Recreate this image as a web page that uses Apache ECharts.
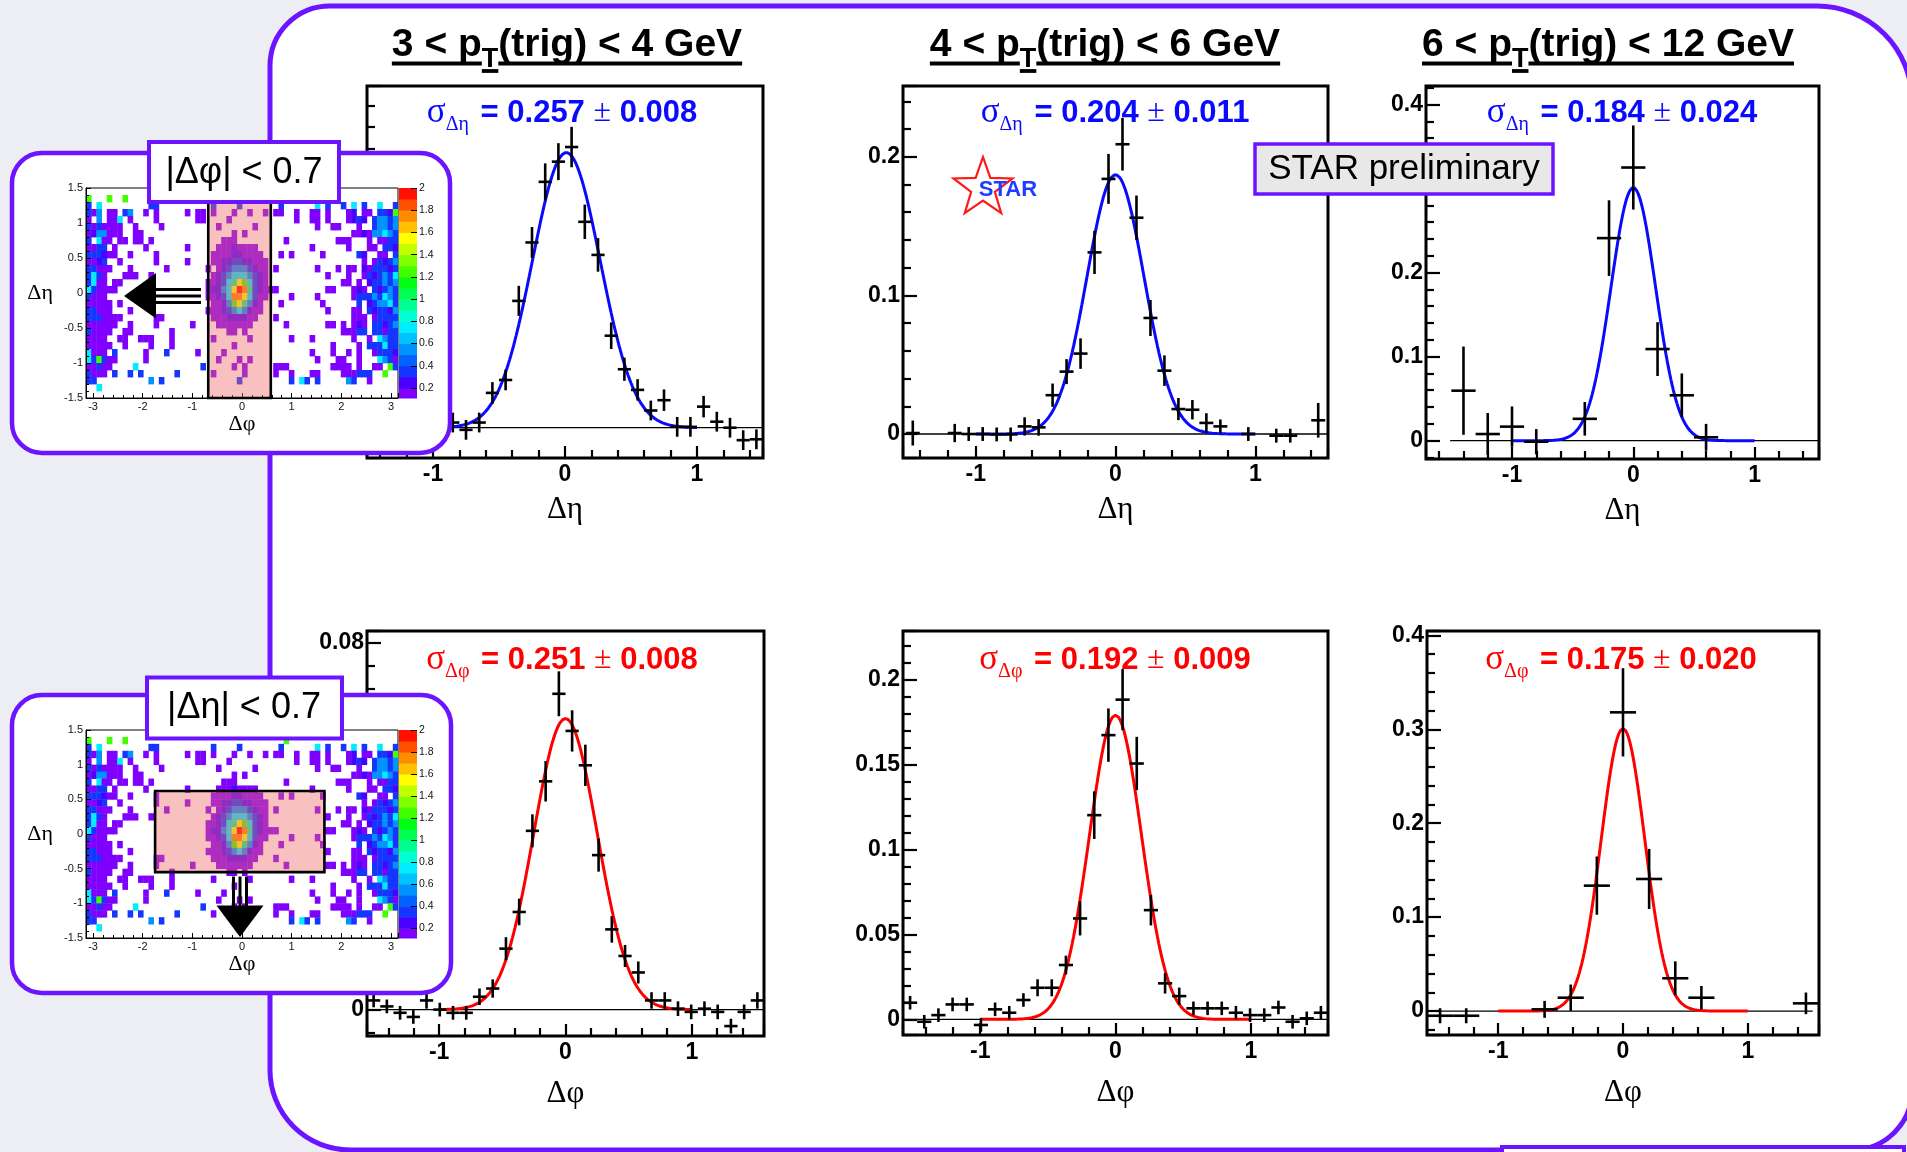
<!DOCTYPE html>
<html>
<head>
<meta charset="utf-8">
<script src="https://cdn.jsdelivr.net/npm/echarts@6/dist/echarts.min.js"></script>
<style>
html,body{margin:0;padding:0;background:#eceef3;}
#chart{width:1907px;height:1152px;}
</style>
</head>
<body>
<div id="chart"></div>
<script>
// ---------------- data ----------------
// Δη projections (|Δφ| < 0.7), three trigger pT bins
const etaLowX  = [-1.45,-1.35,-1.25,-1.15,-1.05,-0.95,-0.85,-0.75,-0.65,-0.55,-0.45,-0.35,-0.25,-0.15,-0.05,0.05,0.15,0.25,0.35,0.45,0.55,0.65,0.75,0.85,0.95,1.05,1.15,1.25,1.35,1.45];
const etaLowY  = [-0.0005,-0.0027,0.0000,0.0043,0.0026,-0.0005,0.0012,-0.0005,0.0012,0.0081,0.0111,0.0295,0.0431,0.0572,0.0619,0.0653,0.0479,0.0402,0.0214,0.0136,0.0088,0.0040,0.0064,0.0002,0.0002,0.0049,0.0014,0.0000,-0.0029,-0.0027];
const etaLowErr= [0.0023,0.0023,0.0023,0.0025,0.0023,0.0023,0.0023,0.0023,0.0023,0.0025,0.0024,0.0035,0.0036,0.0043,0.0043,0.0047,0.0040,0.0039,0.0031,0.0027,0.0025,0.0023,0.0025,0.0023,0.0023,0.0025,0.0023,0.0023,0.0023,0.0023];

const etaMidX  = [-1.45,-1.15,-1.05,-0.95,-0.85,-0.75,-0.65,-0.55,-0.45,-0.35,-0.25,-0.15,-0.05,0.05,0.15,0.25,0.35,0.45,0.55,0.65,0.75,0.95,1.15,1.25,1.45];
const etaMidY  = [0.0007,0.0007,0.0000,0.0000,-0.0003,-0.0003,0.0055,0.0048,0.028,0.045,0.058,0.131,0.184,0.209,0.156,0.0837,0.0457,0.018,0.0175,0.008,0.0055,0.0000,-0.0012,-0.0012,0.0099];
const etaMidErr= [0.009,0.0066,0.005,0.005,0.005,0.005,0.0066,0.006,0.0084,0.009,0.011,0.0156,0.018,0.019,0.016,0.013,0.011,0.008,0.007,0.007,0.005,0.005,0.005,0.005,0.0125];

const etaHighX  = [-1.4,-1.2,-1.0,-0.8,-0.4,-0.2,0.0,0.2,0.4,0.6];
const etaHighY  = [0.0595,0.0079,0.0167,-0.0012,0.026,0.241,0.325,0.109,0.054,0.004];
const etaHighErr= [0.0525,0.025,0.024,0.015,0.02,0.045,0.05,0.032,0.026,0.016];

// Δφ projections (|Δη| < 0.7)
const phiBinX = [-1.5184,-1.4137,-1.3090,-1.2043,-1.0996,-0.9948,-0.8901,-0.7854,-0.6807,-0.5760,-0.4712,-0.3665,-0.2618,-0.1571,-0.0524,0.0524,0.1571,0.2618,0.3665,0.4712,0.5760,0.6807,0.7854,0.8901,0.9948,1.0996,1.2043,1.3090,1.4137,1.5184];
const phiLowY  = [0.002,0.0007,-0.0007,-0.0016,0.002,0.0000,-0.0007,-0.0007,0.0028,0.0046,0.0133,0.0213,0.039,0.0498,0.0689,0.0608,0.0533,0.0337,0.0175,0.0117,0.0081,0.002,0.002,0.0002,-0.0005,0.0002,-0.0005,-0.0036,-0.0005,0.002];
const phiLowErr= [0.0015,0.0015,0.0015,0.0015,0.0018,0.0015,0.0015,0.0015,0.0018,0.002,0.0025,0.0029,0.0036,0.0044,0.0049,0.0045,0.0045,0.0036,0.0029,0.0024,0.0024,0.0018,0.0018,0.0016,0.0016,0.0016,0.0016,0.0016,0.0016,0.0018];
const phiMidY  = [0.0098,-0.0014,0.0025,0.0088,0.0088,-0.0033,0.0059,0.0039,0.0114,0.0186,0.0186,0.032,0.0594,0.1202,0.1673,0.1882,0.1506,0.0643,0.0212,0.0137,0.0065,0.0065,0.0065,0.0039,0.0025,0.0025,0.007,-0.0014,0.0006,0.0039];
const phiMidErr= [0.004,0.004,0.004,0.004,0.004,0.004,0.004,0.004,0.004,0.005,0.005,0.0055,0.010,0.014,0.0157,0.018,0.0157,0.009,0.006,0.005,0.004,0.004,0.004,0.004,0.004,0.004,0.004,0.004,0.004,0.004];
const phiHighX  = [-1.4661,-1.2566,-0.6283,-0.4189,-0.2094,0.0,0.2094,0.4189,0.6283,1.4661];
const phiHighY  = [-0.005,-0.005,0.0018,0.0142,0.1335,0.318,0.1406,0.0349,0.0142,0.0082];
const phiHighErr= [0.008,0.008,0.009,0.014,0.031,0.047,0.032,0.018,0.0125,0.0115];

// Gaussian fit results per panel (TL, TM, TR, BL, BM, BR)
const fitSigma    = [0.257, 0.204, 0.184, 0.251, 0.192, 0.175];
const fitSigmaErr = [0.008, 0.011, 0.024, 0.008, 0.009, 0.020];
const fitAmp      = [0.064, 0.187, 0.301, 0.0635, 0.179, 0.3007];
const fitMean     = [0.01, 0.0, 0.0, 0.0, 0.0, 0.0];
const fitRange    = [-1, 1];

// trigger pT bins
const titleLead = ['3 < p', '4 < p', '6 < p'];
const titleTail = ['(trig) < 4 GeV', '(trig) < 6 GeV', '(trig) < 12 GeV'];

// 2D correlation (Δφ x Δη), 60 x 30 bins; each row lists "phiBin:level", top row first
const heatRows = [
 '',
 '0:7 4:7 7:7 38:7',
 '0:3 2:5 12:3 13:3 24:3 29:3 37:3 44:5 46:3 49:3 51:5 53:3 56:5 59:3',
 '0:3 1:1 2:4 4:1 5:1 7:3 8:4 11:1 13:1 19:1 21:1 22:1 24:1 28:1 31:1 34:1 36:1 37:1 40:1 43:1 44:1 46:1 50:1 51:2 53:1 54:1 56:3 57:3 58:2 59:7',
 '0:1 2:4 4:1 5:1 6:5 8:1 13:1 21:1 22:1 27:1 40:1 43:1 44:1 46:1 50:1 51:2 52:3 53:2 55:3 56:4 57:4 58:3 59:4',
 '0:3 1:1 2:3 3:1 4:1 5:1 6:1 9:1 14:1 25:1 32:1 44:1 47:1 48:1 52:1 55:3 56:4 57:4 58:3 59:4',
 '0:1 1:2 2:4 3:4 4:1 5:1 6:1 9:1 10:1 28:1 30:1 51:1 52:1 53:2 54:1 55:4 56:4 57:5 58:4 59:3',
 '0:3 2:5 3:1 4:1 6:1 7:1 9:1 10:1 12:1 26:1 27:1 28:1 38:1 48:1 49:1 50:1 54:1 56:1 57:1 58:3 59:3',
 '0:1 1:1 2:3 3:3 5:1 11:1 19:1 25:1 26:1 27:1 28:2 29:1 30:1 31:1 32:1 43:1 50:1 54:1 55:1 57:3 58:3 59:2',
 '0:3 1:3 2:3 3:2 4:1 5:1 8:1 13:1 24:1 25:1 26:1 27:1 28:2 29:2 30:1 31:1 32:1 33:1 37:1 39:1 45:1 52:3 53:2 56:1 57:1 59:3',
 '0:1 1:1 2:2 3:3 6:1 13:1 19:1 24:1 25:1 26:2 27:2 28:3 29:3 30:2 31:2 32:1 33:1 34:1 53:1 55:1 56:3 57:2 58:3 59:4',
 '0:3 1:3 2:1 3:1 4:1 8:1 15:1 23:1 25:1 26:2 27:3 28:4 29:4 30:4 31:3 32:2 33:1 34:1 36:1 44:1 48:1 50:1 51:1 53:2 54:1 55:3 56:3 57:3 58:2 59:3',
 '0:3 1:5 2:3 3:1 7:1 8:1 9:1 12:1 24:1 25:2 26:3 27:4 28:5 29:5 30:5 31:4 32:3 33:2 34:1 46:1 50:1 53:1 54:3 55:2 56:3 57:4 58:3 59:5',
 '0:3 1:5 2:1 3:1 5:1 6:1 23:1 24:1 25:2 26:3 27:5 28:6 29:8 30:7 31:5 32:3 33:2 34:1 49:1 50:1 52:1 54:2 55:3 56:3 57:4 58:3 59:4',
 '0:5 1:3 2:1 3:1 4:1 5:1 23:1 24:2 25:2 26:4 27:5 28:8 29:A 30:9 31:6 32:3 33:2 34:1 35:1 36:1 46:1 47:1 51:1 52:2 53:1 55:3 56:2 57:3 58:4 59:3',
 '0:3 1:1 2:1 3:1 23:1 24:1 25:2 26:3 27:5 28:9 29:9 30:8 31:5 32:3 33:1 34:1 39:1 44:1 51:1 52:3 53:3 54:3 55:4 56:3 57:5 58:4 59:3',
 '0:1 1:1 2:1 3:1 4:1 6:1 24:1 25:1 26:2 27:4 28:7 29:8 30:6 31:4 32:2 33:1 37:1 45:1 52:3 54:2 55:3 56:4 57:4 58:5 59:3',
 '0:3 1:3 2:1 3:1 4:1 8:1 23:1 24:1 25:1 26:2 27:3 28:4 29:5 30:4 31:2 32:1 33:1 46:1 51:1 52:1 54:3 55:2 56:3 57:3 58:2 59:4',
 '0:3 1:3 2:3 3:1 4:1 5:1 6:1 13:1 14:1 24:1 25:1 26:1 27:2 28:2 29:2 30:2 31:1 32:1 36:1 51:1 52:1 53:1 55:1 56:3 57:3 58:3 59:3',
 '0:1 1:1 2:1 3:1 4:1 5:1 8:1 13:1 20:1 25:1 26:1 27:1 28:1 29:1 30:1 31:1 38:1 46:1 47:1 49:1 51:1 52:2 53:1 55:3 56:3 57:2 58:3 59:4',
 '0:3 1:1 2:1 3:1 4:1 7:1 8:1 16:1 27:1 28:1 30:1 49:1 50:1 51:1 52:3 53:3 55:3 56:3 57:1 58:3 59:3',
 '0:1 1:1 2:1 3:1 6:1 7:1 10:1 11:1 12:1 16:1 24:1 31:1 39:1 43:1 51:1 54:1 56:5 57:4 58:3 59:3',
 '0:1 1:1 2:1 3:1 4:1 7:1 12:1 16:1 28:1 47:1 52:1 54:3 55:3 56:3 57:5 58:3 59:3',
 '0:5 1:1 2:1 3:1 5:3 11:1 15:3 21:1 26:1 43:1 47:1 50:1 52:1 55:1 56:3 57:3 58:3 59:2',
 '0:5 1:3 2:7 3:3 4:1 5:1 11:1 25:1 29:1 31:1 44:1 48:1 49:1 52:1 56:5 57:4 58:3 59:1',
 '0:1 1:1 2:3 3:1 4:1 9:5 22:3 28:1 30:1 36:1 37:1 38:1 47:1 48:1 49:1 50:1 52:1 55:1 56:1 58:7 59:3',
 '0:3 1:1 2:1 3:1 5:3 8:3 10:3 17:3 24:1 30:1 36:1 39:1 43:1 44:1 49:1 50:1 51:1 52:3 53:3 54:3 57:7',
 '0:3 1:3 12:4 14:3 29:3 39:3 41:5 42:3 44:3 50:4 51:3 54:1',
 '2:5',
 ''
];
const heatLevelValue = {'1':0.15,'2':0.25,'3':0.35,'4':0.55,'5':0.75,'6':0.95,'7':1.25,'8':1.55,'9':1.75,'A':1.95};
const heatPhiBins = 60, heatEtaBins = 30;

// colour palette bands [from, to, colour]
const paletteBands = [
 [0.11,0.2,'#7f00ff'],[0.2,0.3,'#4a00ff'],[0.3,0.4,'#1536ff'],[0.4,0.5,'#0062ff'],[0.5,0.6,'#0092ff'],
 [0.6,0.7,'#00c2ff'],[0.7,0.8,'#00ecff'],[0.8,0.9,'#00ffd2'],[0.9,1.0,'#00ff92'],[1.0,1.1,'#00ff52'],
 [1.1,1.2,'#00ff12'],[1.2,1.3,'#42ff00'],[1.3,1.4,'#82ff00'],[1.4,1.5,'#c2ff00'],[1.5,1.6,'#ffff00'],
 [1.6,1.7,'#ffc000'],[1.7,1.8,'#ff8c00'],[1.8,1.9,'#ff5000'],[1.9,2.0,'#ff1000']
];

// selection windows drawn on the 2D maps: [phiFrom, phiTo, etaFrom, etaTo]
const cutPhiWindow = [[-0.68, 0.58, -1.5, 1.5]];
const cutEtaWindow = [[-1.75, 1.66, -0.55, 0.62]];

// ---------------- layout ----------------
const FONT = '"Liberation Sans", Arial, Helvetica, sans-serif';
const SERIF = '"Liberation Serif", "Times New Roman", serif';
const PURPLE = '#6c14ff';

const panelBox = [
 [367, 86, 396, 372], [903, 86, 425, 372], [1426, 86, 393, 373],
 [367, 631, 397, 405], [903, 631, 425, 404], [1427, 631, 392, 404]
];
const xRange = [[-1.5,1.5],[-1.52,1.52],[-1.709,1.531],[-1.5708,1.5708],[-1.5708,1.5708],[-1.5708,1.5708]];
const yRange = [[-0.00705,0.0795],[-0.0173,0.251],[-0.0218,0.422],[-0.00576,0.0826],[-0.0092,0.2286],[-0.0255,0.4046]];
const ySplit = [5, 3, 4, 5, 5, 4];
const yMinor = [4, 5, 5, 4, 5, 5];
const zeroSpan = [[-1.5,1.5],[-1.52,1.52],[-1.51,1.531],[-1.5708,1.5708],[-1.5708,1.5708],[-1.5708,1.52]];
const binHalf = [0.05, 0.05, 0.1, Math.PI/60, Math.PI/60, Math.PI/30];
const sigmaPos = [[562,113],[1115,113],[1622,113],[562,660],[1115,660],[1621,660]];
const titleCenter = [567, 1105, 1608];

const panels = [
 {x: etaLowX, y: etaLowY, e: etaLowErr},
 {x: etaMidX, y: etaMidY, e: etaMidErr},
 {x: etaHighX, y: etaHighY, e: etaHighErr},
 {x: phiBinX, y: phiLowY, e: phiLowErr},
 {x: phiBinX, y: phiMidY, e: phiMidErr},
 {x: phiHighX, y: phiHighY, e: phiHighErr}
];

const mctx = document.createElement('canvas').getContext('2d');
function textW(t, font) { mctx.font = font; return mctx.measureText(t).width; }

function bandColor(v) {
  for (const b of paletteBands) { if (v >= b[0] && v < b[1]) return b[2]; }
  return v < paletteBands[0][0] ? paletteBands[0][2] : paletteBands[paletteBands.length-1][2];
}

// ---------------- build option ----------------
const grids = [], xAxes = [], yAxes = [], series = [];

panelBox.forEach((b, i) => {
  grids.push({left: b[0], top: b[1], width: b[2], height: b[3], show: true,
    backgroundColor: '#ffffff', borderColor: '#000', borderWidth: 3, containLabel: false, outerBoundsMode: 'none'});
  xAxes.push({
    gridIndex: i, type: 'value', min: xRange[i][0], max: xRange[i][1], splitNumber: 3,
    axisLine: {show: false, onZero: false}, splitLine: {show: false},
    axisTick: {show: true, inside: true, length: 12, lineStyle: {color: '#000', width: 2.2}},
    minorTick: {show: true, splitNumber: 5, length: 8, lineStyle: {color: '#000', width: 2.2}},
    axisLabel: {showMinLabel: false, showMaxLabel: false, fontFamily: FONT, fontWeight: 'bold', fontSize: 23, color: '#000', margin: 5},
    name: i < 3 ? 'Δη' : 'Δφ', nameLocation: 'middle', nameGap: i < 3 ? 36 : 42,
    nameTextStyle: {fontFamily: SERIF, fontSize: 31, color: '#000'}
  });
  yAxes.push({
    gridIndex: i, type: 'value', min: yRange[i][0], max: yRange[i][1], splitNumber: ySplit[i],
    axisLine: {show: false, onZero: false}, splitLine: {show: false},
    axisTick: {show: true, inside: true, length: 14, lineStyle: {color: '#000', width: 2.2}},
    minorTick: {show: true, splitNumber: yMinor[i], length: 8, lineStyle: {color: '#000', width: 2.2}},
    axisLabel: {showMinLabel: false, showMaxLabel: false, fontFamily: FONT, fontWeight: 'bold', fontSize: 23, color: '#000', margin: 3}
  });

  const p = panels[i];
  // y = 0 reference line
  series.push({type: 'line', xAxisIndex: i, yAxisIndex: i, silent: true, showSymbol: false, z: 2,
    data: [[zeroSpan[i][0], 0], [zeroSpan[i][1], 0]], lineStyle: {color: '#000', width: 1.3}});
  // gaussian fit
  const fit = [];
  for (let k = 0; k <= 200; k++) {
    const x = fitRange[0] + (fitRange[1] - fitRange[0]) * k / 200;
    fit.push([x, fitAmp[i] * Math.exp(-0.5 * Math.pow((x - fitMean[i]) / fitSigma[i], 2))]);
  }
  series.push({type: 'line', xAxisIndex: i, yAxisIndex: i, silent: true, showSymbol: false, z: 3,
    data: fit, lineStyle: {color: i < 3 ? '#0a0aff' : '#ff0000', width: 3}});
  // data points with error bars
  const hw = binHalf[i];
  series.push({type: 'custom', xAxisIndex: i, yAxisIndex: i, silent: true, z: 4, clip: true,
    data: p.x.map((v, k) => [v, p.y[k], p.e[k]]),
    encode: {x: 0, y: 1},
    renderItem: function (params, api) {
      const x = api.value(0), y = api.value(1), e = api.value(2);
      const l = api.coord([x - hw, y]), r = api.coord([x + hw, y]);
      const t = api.coord([x, y + e]), bt = api.coord([x, y - e]);
      const st = {stroke: '#000', lineWidth: 2.6};
      return {type: 'group', children: [
        {type: 'line', shape: {x1: l[0], y1: l[1], x2: r[0], y2: r[1]}, style: st},
        {type: 'line', shape: {x1: t[0], y1: t[1], x2: bt[0], y2: bt[1]}, style: st}
      ]};
    }
  });
});

// 2D maps with colour bars
const heatCells = [];
heatRows.forEach((row, j) => {
  if (!row) return;
  row.split(' ').forEach(tok => {
    const parts = tok.split(':');
    const k = +parts[0];
    const phi = -Math.PI + (k + 0.5) * 2 * Math.PI / heatPhiBins;
    const eta = 1.5 - (j + 0.5) * 3 / heatEtaBins;
    heatCells.push([phi, eta, heatLevelValue[parts[1]]]);
  });
});
const dPhi = 2 * Math.PI / heatPhiBins, dEta = 3 / heatEtaBins;

const mapBoxes = [[86, 188, 312, 210], [86, 730, 312, 208]];
const barBoxes = [[399, 188, 18, 210], [399, 730, 18, 208]];
const windows = [cutPhiWindow, cutEtaWindow];

mapBoxes.forEach((b, m) => {
  const gi = grids.length;
  grids.push({left: b[0], top: b[1], width: b[2], height: b[3], show: true, z: 110,
    backgroundColor: '#ffffff', borderColor: '#000', borderWidth: 1, containLabel: false, outerBoundsMode: 'none'});
  xAxes.push({gridIndex: gi, type: 'value', min: -Math.PI, max: Math.PI, splitNumber: 6, z: 112,
    axisLine: {show: true, onZero: false, lineStyle: {color: '#000', width: 1}}, splitLine: {show: false},
    axisTick: {inside: true, length: 5, lineStyle: {color: '#000'}},
    minorTick: {show: true, splitNumber: 5, length: 3, lineStyle: {color: '#000'}},
    axisLabel: {showMinLabel: false, showMaxLabel: false, fontFamily: FONT, fontSize: 11, color: '#111', margin: 3},
    name: 'Δφ', nameLocation: 'middle', nameGap: 14, nameTextStyle: {fontFamily: SERIF, fontSize: 22, color: '#000'}});
  yAxes.push({gridIndex: gi, type: 'value', min: -1.5, max: 1.5, splitNumber: 6, z: 112,
    axisLine: {show: true, onZero: false, lineStyle: {color: '#000', width: 1}}, splitLine: {show: false},
    axisTick: {inside: true, length: 5, lineStyle: {color: '#000'}},
    minorTick: {show: true, splitNumber: 5, length: 3, lineStyle: {color: '#000'}},
    axisLabel: {fontFamily: FONT, fontSize: 11, color: '#111', margin: 3},
    name: 'Δη', nameLocation: 'middle', nameRotate: 0, nameGap: 33, nameTextStyle: {fontFamily: SERIF, fontSize: 22, color: '#000'}});
  series.push({type: 'custom', xAxisIndex: gi, yAxisIndex: gi, silent: true, z: 111, clip: true,
    data: heatCells, encode: {x: 0, y: 1},
    renderItem: function (params, api) {
      const c = api.coord([api.value(0), api.value(1)]);
      const s = api.size([dPhi, dEta]);
      return {type: 'rect', shape: {x: c[0] - s[0] / 2, y: c[1] - s[1] / 2, width: s[0] + 0.4, height: s[1] + 0.4},
        style: {fill: bandColor(api.value(2))}};
    }});
  series.push({type: 'custom', xAxisIndex: gi, yAxisIndex: gi, silent: true, z: 113,
    data: windows[m], encode: {x: [0, 1], y: [2, 3]},
    renderItem: function (params, api) {
      const a = api.coord([api.value(0), api.value(3)]);
      const c = api.coord([api.value(1), api.value(2)]);
      return {type: 'rect', shape: {x: a[0], y: a[1], width: c[0] - a[0], height: c[1] - a[1]},
        style: {fill: 'rgba(240,105,105,0.42)', stroke: '#000', lineWidth: 2.6}};
    }});

  const bb = barBoxes[m];
  const ci = grids.length;
  grids.push({left: bb[0], top: bb[1], width: bb[2], height: bb[3], show: false, z: 110, containLabel: false, outerBoundsMode: 'none'});
  xAxes.push({gridIndex: ci, type: 'value', min: 0, max: 1, show: false});
  yAxes.push({gridIndex: ci, type: 'value', min: 0.11, max: 2, splitNumber: 10, position: 'right', z: 112,
    axisLine: {show: false, onZero: false}, splitLine: {show: false},
    axisTick: {inside: true, length: 6, lineStyle: {color: '#000'}},
    axisLabel: {showMinLabel: false, fontFamily: FONT, fontSize: 10.5, color: '#111', margin: 2}});
  series.push({type: 'custom', xAxisIndex: ci, yAxisIndex: ci, silent: true, z: 111,
    data: paletteBands.map((p, k) => [p[0], p[1], k]),
    renderItem: function (params, api) {
      const t = api.coord([0, api.value(1)]);
      const btm = api.coord([1, api.value(0)]);
      return {type: 'rect', shape: {x: t[0], y: t[1], width: btm[0] - t[0], height: btm[1] - t[1] + 0.5},
        style: {fill: paletteBands[api.value(2)][2]}};
    }});
});

// ---------------- decorations ----------------
const gfx = [];
// main rounded panel
gfx.push({type: 'rect', z: -100, silent: true, shape: {x: 270, y: 6, width: 1642, height: 1144, r: [60, 95, 60, 80]},
  style: {fill: '#ffffff', stroke: PURPLE, lineWidth: 5}});
// box below the panel edge
gfx.push({type: 'rect', z: 50, silent: true, shape: {x: 1502, y: 1147, width: 402, height: 60},
  style: {fill: '#ffffff', stroke: PURPLE, lineWidth: 4}});

// panel titles
titleCenter.forEach((cx, i) => {
  const big = 39, small = 27;
  const fBig = 'bold ' + big + 'px ' + FONT, fSmall = 'bold ' + small + 'px ' + FONT;
  const wA = textW(titleLead[i], fBig), wT = textW('T', fSmall), wC = textW(titleTail[i], fBig);
  const x0 = cx - (wA + wT + wC) / 2;
  const base = 58.5, subBase = 69;
  const txt = (t, x, y, size) => ({type: 'text', z: 20, silent: true, x: x, y: y,
    style: {text: t, fontFamily: FONT, fontWeight: 'bold', fontSize: size, fill: '#000', align: 'left', verticalAlign: 'middle'}});
  gfx.push(txt(titleLead[i], x0, base - 0.35 * big, big));
  gfx.push(txt('T', x0 + wA, subBase - 0.35 * small, small));
  gfx.push(txt(titleTail[i], x0 + wA + wT, base - 0.35 * big, big));
  const ln = (a, b, y) => ({type: 'line', z: 20, silent: true, shape: {x1: a, y1: y, x2: b, y2: y}, style: {stroke: '#000', lineWidth: 3.8}});
  gfx.push(ln(x0, x0 + wA, 63.5));
  gfx.push(ln(x0 + wA, x0 + wA + wT, 71));
  gfx.push(ln(x0 + wA + wT, x0 + wA + wT + wC, 63.5));
});

// fit width labels
sigmaPos.forEach((pos, i) => {
  const col = i < 3 ? '#0a0aff' : '#ff0000';
  const sub = i < 3 ? 'Δη' : 'Δφ';
  gfx.push({type: 'text', z: 30, silent: true, x: pos[0], y: pos[1],
    style: {
      text: '{s|σ}{sub|' + sub + '}{b| = ' + fitSigma[i].toFixed(3) + ' }{pm|±}{b| ' + fitSigmaErr[i].toFixed(3) + '}',
      align: 'center', verticalAlign: 'middle',
      rich: {
        s: {fontFamily: SERIF, fontSize: 35, fill: col},
        sub: {fontFamily: SERIF, fontSize: 20, fill: col, padding: [24, 3, 0, 0]},
        b: {fontFamily: FONT, fontWeight: 'bold', fontSize: 31, fill: col},
        pm: {fontFamily: SERIF, fontSize: 32, fill: col}
      }
    }});
});

// STAR logo
const starPts = [];
for (let k = 0; k < 10; k++) {
  const a = -Math.PI / 2 + k * Math.PI / 5;
  const rr = k % 2 ? 12.5 : 31;
  starPts.push([983 + rr * Math.cos(a), 188 + rr * Math.sin(a)]);
}
gfx.push({type: 'polygon', z: 30, silent: true, shape: {points: starPts}, style: {fill: 'rgba(255,255,255,0)', stroke: '#ff1a1a', lineWidth: 2.2}});
gfx.push({type: 'text', z: 31, silent: true, x: 1008, y: 190,
  style: {text: 'STAR', fontFamily: FONT, fontWeight: 'bold', fontSize: 22, fill: '#1f3dff', align: 'center', verticalAlign: 'middle'}});

// STAR preliminary box
gfx.push({type: 'rect', z: 130, silent: true, shape: {x: 1255, y: 144, width: 298, height: 50},
  style: {fill: '#e8e8e8', stroke: PURPLE, lineWidth: 3.5}});
gfx.push({type: 'text', z: 131, silent: true, x: 1404, y: 169,
  style: {text: 'STAR preliminary', fontFamily: FONT, fontSize: 35, fill: '#000', align: 'center', verticalAlign: 'middle'}});

// inset frames
gfx.push({type: 'rect', z: 100, silent: true, shape: {x: 12, y: 153, width: 438, height: 300, r: 30},
  style: {fill: '#ffffff', stroke: PURPLE, lineWidth: 4.5}});
gfx.push({type: 'rect', z: 100, silent: true, shape: {x: 12, y: 695, width: 439, height: 298, r: 30},
  style: {fill: '#ffffff', stroke: PURPLE, lineWidth: 4.5}});

// projection arrows
gfx.push({type: 'polygon', z: 120, silent: true, shape: {points: [[124, 296], [156, 273], [156, 318.5]]}, style: {fill: '#000'}});
[289.5, 296, 302.5].forEach(y => gfx.push({type: 'line', z: 120, silent: true,
  shape: {x1: 154, y1: y, x2: 201, y2: y}, style: {stroke: '#000', lineWidth: 3}}));
gfx.push({type: 'polygon', z: 120, silent: true, shape: {points: [[240, 937], [216.5, 905.5], [263.5, 905.5]]}, style: {fill: '#000'}});
[233.5, 240, 246.5].forEach(x => gfx.push({type: 'line', z: 120, silent: true,
  shape: {x1: x, y1: 876.5, x2: x, y2: 907}, style: {stroke: '#000', lineWidth: 3}}));

// cut labels
gfx.push({type: 'rect', z: 130, silent: true, shape: {x: 149, y: 142, width: 190, height: 60},
  style: {fill: '#ffffff', stroke: PURPLE, lineWidth: 4}});
gfx.push({type: 'text', z: 131, silent: true, x: 244, y: 173,
  style: {text: '|Δφ| < 0.7', fontFamily: FONT, fontSize: 36, fill: '#000', align: 'center', verticalAlign: 'middle'}});
gfx.push({type: 'rect', z: 130, silent: true, shape: {x: 147, y: 677.5, width: 195, height: 61},
  style: {fill: '#ffffff', stroke: PURPLE, lineWidth: 4}});
gfx.push({type: 'text', z: 131, silent: true, x: 244, y: 708.5,
  style: {text: '|Δη| < 0.7', fontFamily: FONT, fontSize: 36, fill: '#000', align: 'center', verticalAlign: 'middle'}});

const option = {
  backgroundColor: '#eceef3',
  animation: false,
  grid: grids,
  xAxis: xAxes,
  yAxis: yAxes,
  series: series,
  graphic: {elements: gfx}
};

const chart = echarts.init(document.getElementById('chart'), null, {renderer: 'canvas', width: 1907, height: 1152});
chart.setOption(option);
</script>
</body>
</html>
